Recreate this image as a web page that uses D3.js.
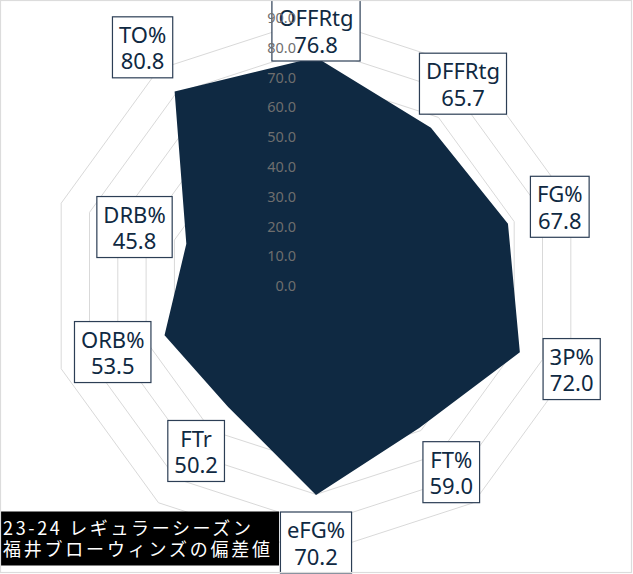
<!DOCTYPE html>
<html>
<head>
<meta charset="utf-8">
<script src="https://cdn.jsdelivr.net/npm/d3@7"></script>
<style>
  html, body { margin: 0; padding: 0; background: #fff; }
  svg { display: block; }
</style>
</head>
<body>
<svg id="chart" width="633" height="574"></svg>
<script>
// ---- data ----
const categories = ["OFFRtg", "DFFRtg", "FG%", "3P%", "FT%", "eFG%", "FTr", "ORB%", "DRB%", "TO%"];
const seriesValues = [76.8, 65.7, 67.8, 72.0, 59.0, 70.2, 50.2, 53.5, 45.8, 80.8];
const tickValues = [0, 10, 20, 30, 40, 50, 60, 70, 80, 90];
const tickLabels = ["0.0", "10.0", "20.0", "30.0", "40.0", "50.0", "60.0", "70.0", "80.0", "90.0"];
const titleLines = ["23-24 レギュラーシーズン", "福井ブローウィンズの偏差値"];

// ---- layout ----
const W = 633, H = 574;
const cx = 316, cy = 286;
const navy = "#0f2942";
const font = "'Noto Sans', 'Open Sans', sans-serif";

const svg = d3.select("#chart");
const r = d3.scaleLinear().domain([0, 100]).range([0, 297.7]);
const angle = d3.scaleLinear().domain([0, categories.length]).range([0, 2 * Math.PI]);

const g = svg.append("g").attr("transform", `translate(${cx},${cy})`);

// grid rings
const ring = d3.lineRadial()
  .angle((d, i) => angle(i))
  .radius(d => r(d))
  .curve(d3.curveLinearClosed);

g.append("g").selectAll("path")
  .data(tickValues.filter(t => t > 0))
  .join("path")
  .attr("d", t => ring(categories.map(() => t)))
  .attr("fill", "none")
  .attr("stroke", "#d9d9d9")
  .attr("stroke-width", 1);

// data polygon
g.append("path")
  .attr("d", ring(seriesValues))
  .attr("fill", navy)
  .attr("stroke", "none");

// category labels in boxes
const boxH = 61;
const labelOffset = 18.3;
categories.forEach((cat, i) => {
  const a = angle(i);
  const rr = r(seriesValues[i] + labelOffset);
  let x = cx + rr * Math.sin(a);
  let y = cy - rr * Math.cos(a);
  y = Math.max(boxH / 2, Math.min(H - 1 - boxH / 2, y));
  const lg = svg.append("g").attr("transform", `translate(${x},${y})`);
  const rect = lg.append("rect");
  const t1 = lg.append("text").attr("y", -4.3).text(cat);
  const t2 = lg.append("text").attr("y", 22).text(seriesValues[i].toFixed(1));
  [t1, t2].forEach(t => t.attr("text-anchor", "middle")
    .attr("font-family", font).attr("font-size", 22).attr("fill", navy));
  const tw = Math.max(t1.node().getComputedTextLength(), t2.node().getComputedTextLength());
  const bw = tw + 13;
  rect.attr("x", -bw / 2).attr("y", -boxH / 2).attr("width", bw).attr("height", boxH)
    .attr("fill", "#fff").attr("stroke", "#2c3e55").attr("stroke-width", 1.2);
});

// tick labels (drawn above the label boxes, as in the reference)
svg.append("g").attr("transform", `translate(${cx},${cy})`)
  .selectAll("text")
  .data(tickValues)
  .join("text")
  .attr("x", -20)
  .attr("y", t => -r(t))
  .attr("dy", "0.35em")
  .attr("text-anchor", "end")
  .attr("font-family", font)
  .attr("font-size", 14.5)
  .attr("fill", "#6e6e6e")
  .text((t, i) => tickLabels[i]);

// title box
svg.append("rect")
  .attr("x", 0).attr("y", 511.5).attr("width", 279).attr("height", 54)
  .attr("fill", "#000");
const titleY = [535, 556];
const titleEnd = [251, 270];
titleLines.forEach((line, i) => {
  svg.append("text")
    .attr("x", 3).attr("y", titleY[i])
    .attr("font-family", "'Noto Sans CJK JP', sans-serif")
    .attr("font-size", 18)
    .attr("fill", "#fff")
    .attr("textLength", titleEnd[i] - 3)
    .attr("lengthAdjust", "spacing")
    .text(line);
});

// outer border
svg.append("rect")
  .attr("x", 0.5).attr("y", 0.5).attr("width", 631).attr("height", 572)
  .attr("fill", "none").attr("stroke", "#dcdcdc").attr("stroke-width", 1.2);
</script>
</body>
</html>
